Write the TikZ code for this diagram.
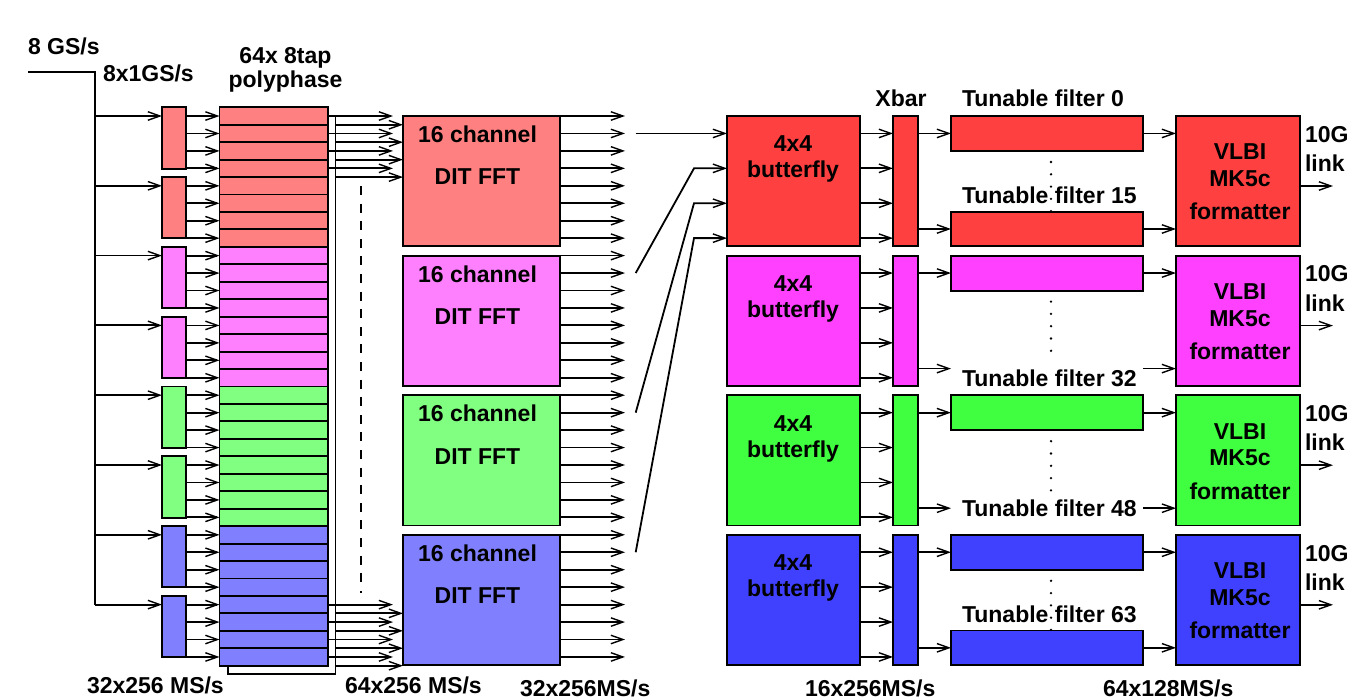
\documentclass[tikz,border=0pt]{standalone}
\usepackage{fontspec}
\setmainfont{Liberation Sans}
\usetikzlibrary{arrows.meta,calc}
\definecolor{L0}{RGB}{255,128,128}
\definecolor{L1}{RGB}{255,128,255}
\definecolor{L2}{RGB}{128,255,128}
\definecolor{L3}{RGB}{128,128,255}
\definecolor{D0}{RGB}{255,64,64}
\definecolor{D1}{RGB}{255,64,255}
\definecolor{D2}{RGB}{64,255,64}
\definecolor{D3}{RGB}{64,64,255}
\begin{document}
\begin{tikzpicture}[x=1pt,y=-1pt,
  line width=1.8pt,
  >={Straight Barb[length=12pt,width=8.5pt,line width=1.4pt]},
  box/.style={draw,line width=1.9pt,inner sep=0pt,outer sep=0pt,anchor=north west},
  txt/.style={inner sep=0pt,outer sep=0pt,font=\fontsize{23}{26}\selectfont\bfseries},
  dotmark/.style={fill=black}]
\useasboundingbox (0,0) rectangle (1357,700);

% ---------- polyphase stripes
\foreach \j in {1,...,32} {
  \pgfmathtruncatemacro\g{(\j-1)/8}
  \node[box,fill=L\g,minimum width=108.5pt,minimum height=17.45pt] (pp\j) at (219.5,{107.3+17.45*(\j-1)}) {};
}
% ---------- decimators
\foreach \i in {0,...,7} {
  \pgfmathtruncatemacro\g{\i/2}
  \node[box,fill=L\g,minimum width=24pt,minimum height=61.3pt] (dec\i) at (162,{107.3+69.8*\i}) {};
}
% ---------- rows
\foreach \k in {0,...,3} {
  \pgfmathsetmacro\tp{116+139.6*\k}
  \node[box,fill=L\k,minimum width=157pt,minimum height=130.3pt] (fft\k) at (403,\tp) {};
  \node[txt,anchor=base] (fftA\k) at (477.5,\tp+26.5) {16 channel};
  \node[txt,anchor=base] (fftB\k) at (477.5,\tp+69) {DIT FFT};
  \node[box,fill=D\k,minimum width=133pt,minimum height=130.3pt] (bf\k) at (727,\tp) {};
  \node[txt,anchor=base] (bfA\k) at (793,\tp+36) {4x4};
  \node[txt,anchor=base] (bfB\k) at (793,\tp+62) {butterfly};
  \node[box,fill=D\k,minimum width=25pt,minimum height=130.3pt] (xb\k) at (893,\tp) {};
  \node[box,fill=D\k,minimum width=192pt,minimum height=35pt] (fa\k) at (951,\tp) {};
  \node[box,fill=D\k,minimum width=124pt,minimum height=130.3pt] (fmt\k) at (1176,\tp) {};
  \node[txt,anchor=base] (fmtA\k) at (1240,\tp+44) {VLBI};
  \node[txt,anchor=base] (fmtB\k) at (1240,\tp+70.7) {MK5c};
  \node[txt,anchor=base] (fmtC\k) at (1240,\tp+104) {formatter};
  \node[txt,anchor=base west] (lkA\k) at (1305,\tp+26.3) {10G};
  \node[txt,anchor=base west] (lkB\k) at (1305,\tp+55.7) {link};
  % dots
  \foreach \n in {0,...,4} {
    \fill[dotmark] ($(fa\k.north west)+(100,{46+12.3*\n})$) circle (1.3pt);
  }
}
\node[box,fill=D0,minimum width=192pt,minimum height=34.3pt] (fb0) at (951,211.7) {};
\node[box,fill=D3,minimum width=192pt,minimum height=34.3pt] (fb3) at (951,630.5) {};

% ---------- filter labels
\node[txt,anchor=base west] (tf0) at (962,106.7) {Tunable filter 0};
\foreach \k/\lab/\off in {0/15/87.3,1/32/131,2/48/121.5,3/63/88} {
  \node[txt,anchor=base west] (tfl\k) at (962,{116+139.6*\k+\off}) {Tunable filter \lab};
}

% ---------- other labels
\node[txt,anchor=base west] (l8gs) at (28,55) {8 GS/s};
\node[txt,anchor=base west] (l8x1) at (103,81.5) {8x1GS/s};
\node[txt,anchor=base] (lpp1) at (285.5,64) {64x 8tap};
\node[txt,anchor=base] (lpp2) at (285.5,88) {polyphase};
\node[txt,anchor=base] (lxbar) at (901,106.7) {Xbar};
\node[txt,anchor=base west] (lb1) at (87,693) {32x256 MS/s};
\node[txt,anchor=base west] (lb2) at (345,693) {64x256 MS/s};
\node[txt,anchor=base west] (lb3) at (520,696.5) {32x256MS/s};
\node[txt,anchor=base west] (lb4) at (805,696.5) {16x256MS/s};
\node[txt,anchor=base west] (lb5) at (1103,696.5) {64x128MS/s};

% ---------- input bus
\coordinate (in) at (28,72);
\coordinate (bus) at (95,72);
\coordinate (busend) at (95,604.6);
\draw (in) -- (bus) -- (busend);
\foreach \i in {0,...,7} {
  \coordinate (di\i) at ($(dec\i.north west)+(0,8.7)$);
  \draw[->] (bus |- di\i) -- (di\i);
}
% decimator outputs
\foreach \j in {1,...,32} {
  \pgfmathtruncatemacro\i{(\j-1)/4}
  \draw[->] (dec\i.east |- pp\j.west) -- (pp\j.west);
}
% ---------- polyphase output bracket
\coordinate (vt) at (335.5,116);
\coordinate (vb) at (335.5,674);
\coordinate (hb) at (228,674);
\draw (vt) -- (vb) -- (hb) -- (hb |- pp32.south);
\foreach \j/\k in {1/0,2/0,3/0,4/0,29/3,30/3,31/3,32/3} {
  \draw[->] (pp\j.east) -- ($(fft\k.west |- pp\j.east)+(-10,0)$);
  \draw[->] (vt |- pp\j.south) -- (fft\k.west |- pp\j.south);
}
\coordinate (da) at (361,186);
\coordinate (db) at (361,593);
\draw[dash pattern=on 9pt off 8.6pt,line width=1.9pt] (da) -- (db);

% ---------- FFT outputs
\foreach \k in {0,...,3} {
  \foreach \m in {0,...,7} {
    \coordinate (fo\k-\m) at ($(fft\k.north east)+(0,{17.45*\m})$);
    \draw[->] (fo\k-\m) -- ++(65,0);
  }
}
% ---------- connectors to butterfly 0
\coordinate (s0) at ($(fo0-1)+(75.7,0)$);
\draw[->] (s0) -- (s0 -| bf0.west);
\foreach \k in {1,2,3} {
  \pgfmathtruncatemacro\mm{2*\k+1}
  \coordinate (s\k) at ($(fo\k-1)+(75.7,0)$);
  \coordinate (bi\k) at ($(bf0.north west)+(0,{17.45*\mm})$);
  \draw[->] (s\k) -- ($(bi\k)+(-33,0)$) -- (bi\k);
}
% ---------- butterfly, xbar, filters, formatter
\foreach \k in {0,...,3} {
  \foreach \m in {1,3,5,7} {
    \coordinate (bo\k-\m) at ($(bf\k.north east)+(0,{17.45*\m})$);
    \draw[->] (bo\k-\m) -- (bo\k-\m -| xb\k.west);
  }
  \coordinate (xo\k) at ($(xb\k.north east)+(0,17.45)$);
  \coordinate (xl\k) at ($(xb\k.north east)+(0,113)$);
  \draw[->] (xo\k) -- (xo\k -| fa\k.west);
  \draw[->] (xl\k) -- (xl\k -| fa\k.west);
  \draw[->] (xo\k -| fa\k.east) -- (xo\k -| fmt\k.west);
  \draw[->] (xl\k -| fa\k.east) -- (xl\k -| fmt\k.west);
  \coordinate (mo\k) at ($(fmt\k.north east)+(0,70)$);
  \draw[->] (mo\k) -- ++(33,0);
}
\end{tikzpicture}
\end{document}
